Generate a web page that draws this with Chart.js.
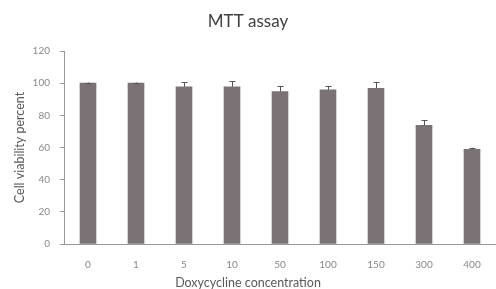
<!DOCTYPE html>
<html>
<head>
<meta charset="utf-8">
<script src="https://cdn.jsdelivr.net/npm/chart.js@4/dist/chart.umd.min.js"></script>
<style>
  html, body { margin: 0; padding: 0; background: #fff; }
  #wrap { width: 496px; height: 289px; }
</style>
</head>
<body>
<div id="wrap"><canvas id="myChart"></canvas></div>
<script>
// doxycycline concentrations and readings
var concentrations = ['0', '1', '5', '10', '50', '100', '150', '300', '400'];
var viability = [100, 100, 97.7, 97.7, 94.8, 95.8, 96.8, 73.8, 58.8];
var errors = [0.4, 0.4, 3, 3.5, 3.5, 2.5, 4, 3, 1];
var yTicks = [0, 20, 40, 60, 80, 100, 120];

var FONT = 'Lato, "Open Sans", sans-serif';

// draws the upper error bar over each bar
var errorBars = {
    id: 'errorBars',
    afterDatasetsDraw: function (chart) {
        var ctx = chart.ctx;
        var y = chart.scales.y;
        var meta = chart.getDatasetMeta(0);
        ctx.save();
        ctx.strokeStyle = '#555';
        ctx.lineWidth = 1;
        meta.data.forEach(function (bar, i) {
            var v = viability[i], e = errors[i];
            var yTop = y.getPixelForValue(v + e);
            var yVal = y.getPixelForValue(v);
            var x = Math.round(bar.x) + 0.5;
            ctx.beginPath();
            ctx.moveTo(x, yVal);
            ctx.lineTo(x, yTop);
            ctx.moveTo(x - 3, Math.round(yTop) + 0.5);
            ctx.lineTo(x + 3, Math.round(yTop) + 0.5);
            ctx.stroke();
        });
        ctx.restore();
    }
};

var ctx = document.getElementById('myChart');
var myChart = new Chart(ctx, {
    type: 'bar',
    data: {
        labels: concentrations,
        datasets: [{
            label: 'Cell viability',
            data: viability,
            backgroundColor: '#7a7274',
            borderWidth: 0,
            barThickness: 16
        }]
    },
    options: {
        responsive: true,
        maintainAspectRatio: false,
        animation: false,
        layout: { padding: 0 },
        plugins: {
            legend: { display: false },
            tooltip: { enabled: false },
            title: {
                display: true,
                text: 'MTT assay',
                color: '#404040',
                font: { family: FONT, size: 17, weight: 'normal' },
                padding: { top: 11.8, bottom: 18.8 }
            },
            subtitle: {
                display: true,
                position: 'bottom',
                text: 'Doxycycline concentration',
                color: '#595959',
                font: { family: FONT, size: 12.5, weight: 'normal', lineHeight: 1 },
                padding: { top: 2, bottom: 0 }
            }
        },
        scales: {
            x: {
                grid: { display: false, drawTicks: false },
                border: { display: true, color: '#999', width: 1 },
                ticks: {
                    color: '#888',
                    font: { family: FONT, size: 10 },
                    padding: 15,
                    maxRotation: 0
                },
                afterFit: function (scale) { scale.height = 30.5; }
            },
            y: {
                min: 0,
                max: 120,
                afterBuildTicks: function (scale) {
                    scale.ticks = yTicks.map(function (v) { return { value: v }; });
                },
                grid: {
                    drawOnChartArea: false,
                    drawTicks: true,
                    tickLength: 4,
                    color: '#999'
                },
                border: { display: true, color: '#999', width: 1 },
                ticks: {
                    color: '#888',
                    font: { family: FONT, size: 10 },
                    padding: 10
                },
                title: {
                    display: true,
                    text: 'Cell viability percent',
                    color: '#595959',
                    font: { family: FONT, size: 12.5, weight: 'normal' },
                    padding: { top: 12.5, bottom: 0 }
                },
                afterFit: function (scale) { scale.width = 64; }
            }
        }
    },
    plugins: [errorBars]
});
</script>
</body>
</html>
